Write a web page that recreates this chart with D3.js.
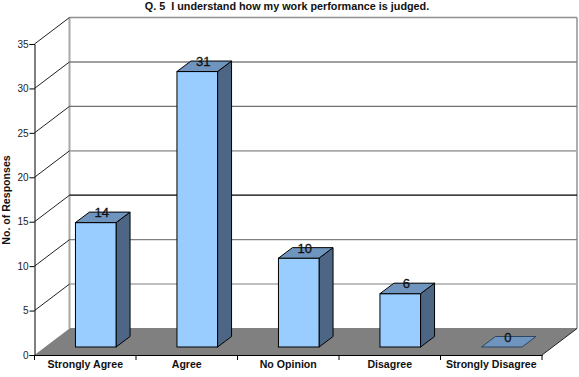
<!DOCTYPE html>
<html>
<head>
<meta charset="utf-8">
<script src="https://cdn.jsdelivr.net/npm/d3@7"></script>
<style>
body { margin: 0; background: #fff; }
svg { display: block; }
text { font-family: "Liberation Sans", Arial, sans-serif; }
</style>
</head>
<body>
<script>
var title = "Q. 5  I understand how my work performance is judged.";
var yTitle = "No. of Responses";
var categories = ["Strongly Agree", "Agree", "No Opinion", "Disagree", "Strongly Disagree"];
var responses = [14, 31, 10, 6, 0];
var yTicks = [0, 5, 10, 15, 20, 25, 30, 35];
// the back wall lines come out uneven in the original, so each one gets its own look
var gridColors = ["#808080", "#a8a8a8", "#808080", "#000000", "#a8a8a8", "#707070", "#808080", "#909090"];
var gridWidths = [1, 1.6, 1.2, 1.2, 1.8, 1.2, 1.4, 1.4];

var w = 579;
var h = 377;
var left = 34.5;
var right = 542;
var bottom = 355;
var top35 = 44;
var depthX = 35;
var depthY = 26.5;

var barShiftX = 10.5;
var barShiftY = 8;
var barDepthX = 14;
var barDepthY = 10.5;

var svg = d3.select("body")
	.append("svg")
	.attr("width", w)
	.attr("height", h);

var xScale = d3.scaleBand()
	.domain(categories)
	.range([left, right]);

var yScale = d3.scaleLinear()
	.domain([0, 35])
	.range([bottom, top35]);

var barWidth = xScale.bandwidth() * 0.4;

function pts(list) {
	return list.map(function(p) { return p.join(","); }).join(" ");
}

// back wall
svg.append("line")
	.attr("x1", left + depthX).attr("x2", left + depthX)
	.attr("y1", yScale(35) - depthY).attr("y2", bottom - depthY)
	.attr("stroke", "#a8a8a8").attr("stroke-width", 2);

svg.append("line")
	.attr("x1", right + depthX).attr("x2", right + depthX)
	.attr("y1", yScale(35) - depthY).attr("y2", bottom - depthY)
	.attr("stroke", "#777").attr("stroke-width", 1.2);

svg.selectAll(".grid")
	.data(yTicks)
	.enter()
	.append("line")
	.attr("class", "grid")
	.attr("x1", left + depthX)
	.attr("x2", right + depthX)
	.attr("y1", function(d) { return yScale(d) - depthY; })
	.attr("y2", function(d) { return yScale(d) - depthY; })
	.attr("stroke", function(d, i) { return gridColors[i]; })
	.attr("stroke-width", function(d, i) { return gridWidths[i]; });

// side wall diagonals
svg.selectAll(".diag")
	.data(yTicks.slice(1))
	.enter()
	.append("line")
	.attr("class", "diag")
	.attr("x1", left)
	.attr("x2", left + depthX)
	.attr("y1", function(d) { return yScale(d); })
	.attr("y2", function(d) { return yScale(d) - depthY; })
	.attr("stroke", "#222");

// floor
svg.append("polygon")
	.attr("points", pts([
		[left, bottom], [right, bottom],
		[right + depthX, bottom - depthY], [left + depthX, bottom - depthY]
	]))
	.attr("fill", "#808080");

svg.append("line")
	.attr("x1", right).attr("x2", right + depthX)
	.attr("y1", bottom).attr("y2", bottom - depthY)
	.attr("stroke", "#222");

// axes
var yAxis = d3.axisLeft(yScale)
	.tickValues(yTicks)
	.tickSize(5)
	.tickPadding(1);

var gy = svg.append("g")
	.attr("transform", "translate(" + left + ",0)")
	.call(yAxis);
gy.selectAll("text").attr("font-size", 10).attr("fill", "#222")
	.style("font-family", "'Liberation Sans', Arial, sans-serif");

var xAxis = d3.axisBottom(xScale)
	.tickSize(0)
	.tickPadding(5);

var gx = svg.append("g")
	.attr("transform", "translate(0," + bottom + ")")
	.call(xAxis);
gx.selectAll("text").attr("font-size", 10.6).attr("font-weight", "bold").attr("fill", "#111")
	.style("font-family", "'Liberation Sans', Arial, sans-serif");

// ticks sit between the categories
gx.selectAll(".edge")
	.data(categories.concat(["end"]))
	.enter()
	.append("line")
	.attr("class", "edge")
	.attr("x1", function(d, i) { return left + i * xScale.step(); })
	.attr("x2", function(d, i) { return left + i * xScale.step(); })
	.attr("y1", 0)
	.attr("y2", 5)
	.attr("stroke", "#000");

// bars
function barX(d, i) {
	return xScale(categories[i]) + xScale.bandwidth() / 2 - barWidth / 2 + barShiftX;
}
function barY(d) {
	return yScale(d) - barShiftY;
}
var floorY = bottom - barShiftY;

var bars = svg.selectAll(".bar")
	.data(responses)
	.enter()
	.append("g")
	.attr("class", "bar");

bars.filter(function(d) { return d > 0; })
	.append("polygon")
	.attr("points", function(d) {
		var x1 = barX(d, responses.indexOf(d)) + barWidth;
		return pts([
			[x1, floorY], [x1, barY(d)],
			[x1 + barDepthX, barY(d) - barDepthY], [x1 + barDepthX, floorY - barDepthY]
		]);
	})
	.attr("fill", "#4d6685")
	.attr("stroke", "#000")
	.attr("stroke-width", 1);

bars.filter(function(d) { return d > 0; })
	.append("rect")
	.attr("x", function(d) { return barX(d, responses.indexOf(d)); })
	.attr("y", barY)
	.attr("width", barWidth)
	.attr("height", function(d) { return floorY - barY(d); })
	.attr("fill", "#99ccff")
	.attr("stroke", "#000")
	.attr("stroke-width", 1);

bars.append("polygon")
	.attr("points", function(d) {
		var x0 = barX(d, responses.indexOf(d));
		var y0 = barY(d);
		return pts([
			[x0, y0], [x0 + barWidth, y0],
			[x0 + barWidth + barDepthX, y0 - barDepthY], [x0 + barDepthX, y0 - barDepthY]
		]);
	})
	.attr("fill", "#6f94bd")
	.attr("stroke", function(d) { return d > 0 ? "#000" : "#2f4560"; })
	.attr("stroke-width", 1);

bars.append("text")
	.text(function(d) { return d; })
	.attr("x", function(d) { return barX(d, responses.indexOf(d)) + barWidth / 2 + 6; })
	.attr("y", function(d) { return barY(d) - 5.5; })
	.attr("text-anchor", "middle")
	.attr("font-size", 13)
	.attr("fill", "#111")
	.attr("stroke", "#111")
	.attr("stroke-width", 0.3);

// titles
svg.append("text")
	.text(title)
	.attr("x", 287)
	.attr("y", 10)
	.attr("text-anchor", "middle")
	.attr("font-size", 10.8)
	.attr("font-weight", "bold")
	.style("white-space", "pre")
	.attr("fill", "#111");

svg.append("text")
	.text(yTitle)
	.attr("transform", "translate(10,200) rotate(-90)")
	.attr("text-anchor", "middle")
	.attr("font-size", 10.6)
	.attr("font-weight", "bold")
	.attr("fill", "#111");
</script>
</body>
</html>
